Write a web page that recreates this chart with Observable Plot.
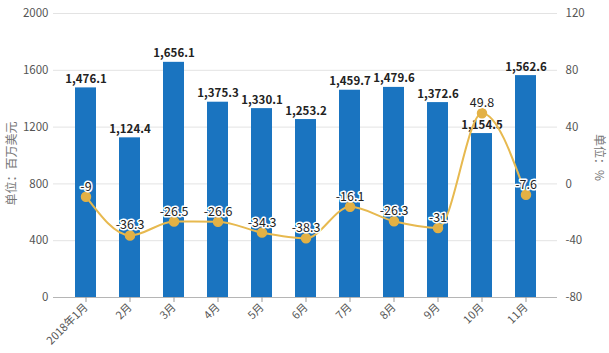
<!DOCTYPE html>
<html>
<head>
<meta charset="utf-8">
<script src="https://cdn.jsdelivr.net/npm/d3@7"></script>
<script src="https://cdn.jsdelivr.net/npm/@observablehq/plot@0.6"></script>
<style>
  html, body { margin: 0; padding: 0; background: #fff; }
  #chart svg { display: block; }
</style>
</head>
<body>
<div id="chart"></div>
<script>
const months = ["2018年1月", "2月", "3月", "4月", "5月", "6月", "7月", "8月", "9月", "10月", "11月"];
const exportValues = [1476.1, 1124.4, 1656.1, 1375.3, 1330.1, 1253.2, 1459.7, 1479.6, 1372.6, 1154.5, 1562.6];
const growthRates = [-9, -36.3, -26.5, -26.6, -34.3, -38.3, -16.1, -26.3, -31, 49.8, -7.6];
const leftTicks = [0, 400, 800, 1200, 1600, 2000];
const rightTicks = [-80, -40, 0, 40, 80, 120];
const leftTitle = "单位：百万美元";
const rightTitle = "单位：%";

// map the right (%) axis onto the left scale domain
const rMin = -80, rMax = 120, lMax = 2000;
const toLeft = p => (p - rMin) / (rMax - rMin) * lMax;
const fromLeft = v => v / lMax * (rMax - rMin) + rMin;

const data = months.map((m, i) => ({
  month: m,
  value: exportValues[i],
  pct: growthRates[i],
  pctY: toLeft(growthRates[i])
}));

const fmtBar = d3.format(",.1f");
const FONT = "'Noto Sans CJK SC', 'Noto Sans', sans-serif";

const chart = Plot.plot({
  width: 609,
  height: 353,
  marginLeft: 53,
  marginRight: 52,
  marginTop: 13,
  marginBottom: 56,
  style: { fontFamily: FONT, fontSize: "11px", color: "#555", background: "#fff" },
  x: { type: "band", domain: months, paddingInner: 0.527, paddingOuter: 0.44, label: null },
  y: { domain: [0, lMax], label: null },
  marks: [
    Plot.ruleY(leftTicks.slice(1), { stroke: "#e3e3e3", strokeWidth: 1 }),
    Plot.barY(data, { x: "month", y: "value", fill: "#1a74c0" }),
    Plot.ruleY([0], { stroke: "#b5b5b5", strokeWidth: 1 }),
    Plot.axisX({ tickSize: 5, tickRotate: -45, tickPadding: 3, stroke: "#999", fontSize: 11, fill: "#555", label: null }),
    Plot.axisY({ anchor: "left", ticks: leftTicks, tickFormat: v => String(v), tickSize: 0, tickPadding: 5, fontSize: 11.5, fill: "#555", label: null }),
    Plot.axisY({ anchor: "right", ticks: leftTicks, tickFormat: v => String(fromLeft(v)), tickSize: 0, tickPadding: 8, fontSize: 11.5, fill: "#555", label: null }),
    Plot.text(data, {
      x: "month", y: "value", text: d => fmtBar(d.value),
      lineAnchor: "bottom", dy: -5, fontWeight: "bold", fontSize: 11.5, fill: "#222"
    }),
    Plot.line(data, { x: "month", y: "pctY", stroke: "#e7b94f", strokeWidth: 2, curve: "monotone-x" }),
    Plot.dot(data, { x: "month", y: "pctY", r: 4.5, fill: "#e3b145", stroke: "#e3b145" }),
    Plot.text(data, {
      x: "month", y: "pctY", text: d => String(d.pct),
      lineAnchor: "bottom", dy: -6, fontSize: 12.5, fill: "#222",
      stroke: "#fff", strokeWidth: 3
    }),
    Plot.text([leftTitle], { frameAnchor: "left", textAnchor: "middle", dx: -41, dy: 8, rotate: -90, fontSize: 12, fill: "#777" }),
    Plot.text([rightTitle], { frameAnchor: "right", textAnchor: "middle", dx: 41, dy: 2, rotate: 90, fontSize: 12, fill: "#777" })
  ]
});

document.getElementById("chart").appendChild(chart);
</script>
</body>
</html>
